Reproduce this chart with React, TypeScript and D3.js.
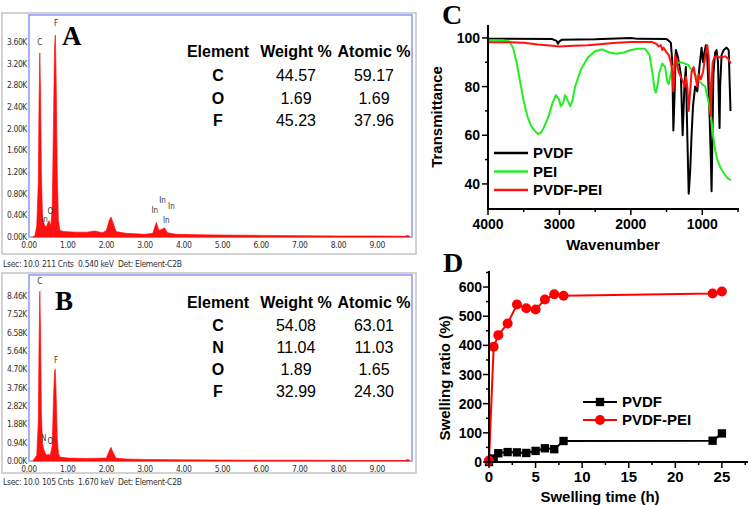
import React from 'react';
import * as d3 from 'd3';

// ---------- Panel A / B : EDS spectra ----------
const spectrumA: [number, number][] = [
  [0.1, 0], [0.15, 0.02], [0.2, 0.2], [0.24, 1.0], [0.26, 2.5], [0.28, 3.4], [0.3, 2.6], [0.32, 1.2],
  [0.35, 0.35], [0.4, 0.22], [0.44, 0.18], [0.48, 0.25], [0.52, 0.3], [0.56, 0.2], [0.6, 0.5],
  [0.63, 2.0], [0.66, 3.5], [0.68, 3.73], [0.7, 3.0], [0.73, 1.2], [0.76, 0.3], [0.8, 0.12],
  [0.9, 0.1], [1.2, 0.09], [1.5, 0.09], [1.7, 0.11], [1.9, 0.08], [2.0, 0.12], [2.07, 0.3],
  [2.12, 0.37], [2.18, 0.25], [2.25, 0.1], [2.5, 0.07], [3.0, 0.05], [3.2, 0.07], [3.29, 0.27],
  [3.36, 0.12], [3.45, 0.15], [3.5, 0.17], [3.58, 0.08], [3.8, 0.05], [4.5, 0.04], [5, 0.035],
  [6, 0.03], [7, 0.025], [8, 0.02], [9, 0.02], [9.7, 0.015], [9.8, 0.03], [9.85, 0],
];
const spectrumB: [number, number][] = [
  [0.1, 0], [0.2, 0.3], [0.24, 2], [0.26, 6], [0.28, 8.7], [0.3, 6.5], [0.32, 2.5], [0.35, 0.9],
  [0.38, 0.6], [0.42, 0.4], [0.46, 0.3], [0.5, 0.35], [0.55, 0.3], [0.6, 0.8], [0.63, 3],
  [0.66, 4.6], [0.68, 4.7], [0.7, 3.5], [0.73, 1.2], [0.76, 0.4], [0.8, 0.2], [1.0, 0.15],
  [1.5, 0.13], [2.0, 0.15], [2.07, 0.5], [2.12, 0.7], [2.18, 0.4], [2.25, 0.15], [2.5, 0.1],
  [3, 0.08], [4, 0.06], [5, 0.05], [6, 0.04], [7, 0.04], [8, 0.03], [9, 0.03], [9.7, 0.03],
  [9.8, 0.08], [9.85, 0],
];
const keVTicks = [0, 1, 2, 3, 4, 5, 6, 7, 8, 9];
const countTicksA = [0, 0.4, 0.8, 1.2, 1.6, 2.0, 2.4, 2.8, 3.2, 3.6];
const countTicksB = [0, 0.94, 1.88, 2.82, 3.76, 4.7, 5.64, 6.58, 7.52, 8.46];
const peakLabelsA: [string, number, number][] = [
  ['C', 0.28, 3.55], ['F', 0.7, 3.9], ['In', 0.4, 0.28], ['O', 0.55, 0.42],
  ['In', 3.25, 0.45], ['In', 3.45, 0.62], ['In', 3.68, 0.52], ['In', 3.55, 0.25],
];
const peakLabelsB: [string, number, number][] = [
  ['C', 0.28, 9.1], ['F', 0.7, 5.0], ['N', 0.38, 1.05], ['O', 0.55, 0.85],
];
const statusA = ['Lsec: 10.0', '211 Cnts', '0.540 keV', 'Det: Element-C2B'];
const statusB = ['Lsec: 10.0', '105 Cnts', '1.670 keV', 'Det: Element-C2B'];

const tableHeader = ['Element', 'Weight %', 'Atomic %'];
const elementsA = ['C', 'O', 'F'];
const weightA = ['44.57', '1.69', '45.23'];
const atomicA = ['59.17', '1.69', '37.96'];
const elementsB = ['C', 'N', 'O', 'F'];
const weightB = ['54.08', '11.04', '1.89', '32.99'];
const atomicB = ['63.01', '11.03', '1.65', '24.30'];

// ---------- Panel C : FTIR ----------
const ftirPVDF: [number, number][] = [
  [4000, 99.6], [3700, 99.6], [3100, 99.5], [3040, 98.8], [3020, 97.6], [3000, 98.6], [2970, 99.2],
  [2500, 99.4], [2000, 100], [1900, 99.6], [1500, 99.5], [1470, 98.8], [1440, 98], [1420, 90],
  [1405, 62], [1390, 75], [1370, 95], [1340, 92], [1300, 85], [1275, 60], [1250, 80], [1230, 88],
  [1210, 60], [1190, 36], [1170, 45], [1150, 60], [1130, 72], [1100, 80], [1070, 78], [1040, 88],
  [1010, 96], [990, 90], [970, 94], [950, 97], [930, 92], [900, 70], [880, 50], [870, 37],
  [860, 55], [845, 85], [820, 94], [800, 95], [780, 90], [765, 70], [758, 63], [750, 80],
  [730, 93], [700, 95], [660, 96], [630, 95], [615, 80], [605, 70],
];
const ftirPEI: [number, number][] = [
  [4000, 99], [3800, 99], [3700, 98.5], [3650, 96], [3600, 90], [3550, 82], [3500, 74], [3450, 68],
  [3400, 64], [3350, 62], [3300, 60.5], [3260, 61], [3220, 63], [3150, 68], [3100, 73], [3050, 76.5],
  [3010, 75], [2980, 72], [2950, 73], [2920, 76.5], [2880, 74], [2850, 72], [2820, 74], [2780, 80],
  [2700, 87], [2600, 92], [2500, 94.5], [2400, 95.3], [2300, 94], [2200, 93.5], [2100, 94],
  [2000, 95], [1900, 95.5], [1800, 95.5], [1740, 93], [1700, 86], [1670, 79], [1650, 77.5],
  [1630, 80], [1600, 86], [1560, 89.5], [1520, 88], [1490, 82], [1470, 81], [1450, 84], [1420, 88],
  [1380, 89.5], [1300, 90], [1200, 89], [1150, 87], [1100, 85], [1050, 82.5], [1000, 81], [960, 80],
  [930, 76], [900, 72], [870, 66], [850, 60], [820, 54], [790, 50], [750, 47], [700, 44.5],
  [650, 42.5], [600, 41.5],
];
const ftirPVDFPEI: [number, number][] = [
  [4000, 98.2], [3700, 98.2], [3500, 98], [3300, 97.3], [3100, 96.8], [3000, 96.5], [2800, 96.8],
  [2600, 97], [2400, 97.5], [2200, 98], [2000, 98.3], [1800, 98.3], [1700, 98.3], [1640, 97.5],
  [1610, 96.5], [1580, 97], [1560, 95], [1540, 96], [1500, 94], [1470, 93], [1440, 90], [1420, 86],
  [1405, 78], [1395, 82], [1380, 93], [1360, 90], [1330, 86], [1300, 84], [1270, 82], [1250, 80],
  [1230, 84], [1210, 80], [1190, 70], [1170, 78], [1150, 86], [1120, 88], [1090, 83], [1070, 80],
  [1050, 85], [1020, 83], [990, 86], [970, 90], [950, 94], [930, 97], [910, 92], [895, 80],
  [880, 68], [870, 80], [855, 90], [830, 92], [800, 92.5], [760, 92], [720, 92], [680, 92.5],
  [640, 91.5], [600, 89.5],
];
const ftirNames = ['PVDF', 'PEI', 'PVDF-PEI'];
const ftirXTicks = [4000, 3000, 2000, 1000];
const ftirXMinor = [3500, 2500, 1500, 500];
const ftirYTicks = [40, 60, 80, 100];
const ftirYMinor = [50, 70, 90];

// ---------- Panel D : swelling ----------
const timePVDF = [0, 0.5, 1, 2, 3, 4, 5, 6, 7, 8, 24, 25];
const swellPVDF = [0, 12, 30, 34, 33, 31, 38, 47, 44, 72, 73, 98];
const timePEI = [0, 0.5, 1, 2, 3, 4, 5, 6, 7, 8, 24, 25];
const swellPEI = [5, 395, 435, 475, 540, 527, 523, 557, 575, 570, 578, 585];
const swellNames = ['PVDF', 'PVDF-PEI'];
const dXTicks = [0, 5, 10, 15, 20, 25];
const dXMinor = [2.5, 7.5, 12.5, 17.5, 22.5, 27.5];
const dYTicks = [0, 100, 200, 300, 400, 500, 600];
const dYMinor = [50, 150, 250, 350, 450, 550, 650];

const SANS = "'Liberation Sans', Arial, sans-serif";
const SERIF = "'Liberation Serif', 'Times New Roman', serif";
const EDS_FONT = "'DejaVu Sans Condensed', 'Liberation Sans Narrow', 'Liberation Sans', sans-serif";

function EDSPanel(props: {
  data: [number, number][]; ticks: number[]; yTop: number; yBase: number; yMaxTick: number;
  frameTop: number; frameBottom: number; boxTop: number; boxBottom: number; letter: string;
  letterX: number; letterY: number; peaks: [string, number, number][]; status: string[]; statusY: number;
  elements: string[]; weight: string[]; atomic: string[]; rowYs: number[];
}) {
  const p = props;
  const x = d3.scaleLinear().domain([0, 9.9]).range([29, 412]);
  const y = d3.scaleLinear().domain([0, p.yMaxTick]).range([p.yBase, p.yTop]);
  const area = d3.area<[number, number]>().x(d => x(d[0])).y0(p.yBase).y1(d => y(d[1]));
  const statusX = [3, 42, 78, 118];
  const colX = [218, 296, 374];
  return (
    <g>
      <rect x={2} y={p.boxTop} width={414} height={p.boxBottom - p.boxTop} fill="none" stroke="#c4c4c4" strokeWidth={1.5} />
      <rect x={29} y={p.frameTop} width={383} height={p.frameBottom - p.frameTop} fill="#fff" stroke="#7b86f2" strokeWidth={1.3} />
      <path d={area(p.data) || ''} fill="#ff1010" stroke="#ff0000" strokeWidth={0.6} />
      {p.ticks.map(t => (
        <text key={t} x={27} y={y(t) + 3} fontSize={8.5} fontFamily={EDS_FONT} fill="#333" textAnchor="end" letterSpacing={-0.4}>
          {d3.format('.2f')(t) + 'K'}
        </text>
      ))}
      {keVTicks.map(t => (
        <text key={t} x={x(t)} y={p.frameBottom + 11} fontSize={8.5} fontFamily={EDS_FONT} fill="#333" textAnchor="middle" letterSpacing={-0.4}>
          {d3.format('.2f')(t)}
        </text>
      ))}
      {p.peaks.map((pk, i) => (
        <text key={i} x={x(pk[1])} y={y(pk[2])} fontSize={8} fontFamily={EDS_FONT} fill="#333" textAnchor="middle">{pk[0]}</text>
      ))}
      {p.status.map((s, i) => (
        <text key={i} x={statusX[i]} y={p.statusY} fontSize={8.5} fontFamily={EDS_FONT} fill="#333" letterSpacing={-0.3}>{s}</text>
      ))}
      <text x={p.letterX} y={p.letterY} fontSize={27} fontWeight="bold" fontFamily={SERIF}>{p.letter}</text>
      {tableHeader.map((h, i) => (
        <text key={h} x={colX[i]} y={p.rowYs[0]} fontSize={16} fontWeight="bold" fontFamily={SANS} textAnchor="middle">{h}</text>
      ))}
      {p.elements.map((el, i) => (
        <g key={el}>
          <text x={colX[0]} y={p.rowYs[i + 1]} fontSize={16} fontWeight="bold" fontFamily={SANS} textAnchor="middle">{el}</text>
          <text x={colX[1]} y={p.rowYs[i + 1]} fontSize={16} fontFamily={SANS} textAnchor="middle">{p.weight[i]}</text>
          <text x={colX[2]} y={p.rowYs[i + 1]} fontSize={16} fontFamily={SANS} textAnchor="middle">{p.atomic[i]}</text>
        </g>
      ))}
    </g>
  );
}

export default function App() {
  // Panel C scales
  const cx = d3.scaleLinear().domain([4000, 500]).range([488, 738]);
  const cy = d3.scaleLinear().domain([29.7, 105.3]).range([209, 25]);
  const cLine = d3.line<[number, number]>().x(d => cx(d[0])).y(d => cy(d[1]));
  const ftirSeries = [ftirPVDF, ftirPEI, ftirPVDFPEI];
  const ftirColors = ['#000000', '#22ee22', '#ff1111'];

  // Panel D scales
  const dx = d3.scaleLinear().domain([0, 27.8]).range([489, 748]);
  const dy = d3.scaleLinear().domain([0, 655]).range([462, 271]);
  const dLine = d3.line<number>();
  const ptsPVDF = timePVDF.map((t, i) => [dx(t), dy(swellPVDF[i])] as [number, number]);
  const ptsPEI = timePEI.map((t, i) => [dx(t), dy(swellPEI[i])] as [number, number]);
  const sq = d3.symbol().type(d3.symbolSquare).size(70)() || '';
  const lineGen = d3.line();

  return (
    <svg width={750} height={505} style={{ position: 'absolute', left: 0, top: 0, background: '#fff' }}>
      <rect x={0} y={0} width={750} height={505} fill="#fff" />
      <EDSPanel data={spectrumA} ticks={countTicksA} yTop={42} yBase={237} yMaxTick={3.6}
        frameTop={15} frameBottom={237} boxTop={13} boxBottom={254} letter="A" letterX={62} letterY={45}
        peaks={peakLabelsA} status={statusA} statusY={267}
        elements={elementsA} weight={weightA} atomic={atomicA} rowYs={[57, 81, 104, 126]} />
      <EDSPanel data={spectrumB} ticks={countTicksB} yTop={296} yBase={461} yMaxTick={8.46}
        frameTop={275} frameBottom={461} boxTop={273} boxBottom={473} letter="B" letterX={55} letterY={310}
        peaks={peakLabelsB} status={statusB} statusY={485}
        elements={elementsB} weight={weightB} atomic={atomicB} rowYs={[308, 331, 353, 375, 397]} />

      {/* Panel C */}
      <g fontFamily={SANS} fontWeight="bold">
        <text x={442} y={24} fontSize={28} fontFamily={SERIF}>C</text>
        {ftirSeries.map((s, i) => (
          <path key={i} d={cLine(s) || ''} fill="none" stroke={ftirColors[i]} strokeWidth={2} strokeLinejoin="round" />
        ))}
        <line x1={488} x2={488} y1={25} y2={209} stroke="#000" strokeWidth={2} />
        <line x1={487} x2={739} y1={209} y2={209} stroke="#000" strokeWidth={2} />
        {ftirYTicks.map(t => (
          <g key={t}>
            <line x1={482} x2={488} y1={cy(t)} y2={cy(t)} stroke="#000" strokeWidth={1.5} />
            <text x={480} y={cy(t) + 5} fontSize={14} textAnchor="end">{t}</text>
          </g>
        ))}
        {ftirYMinor.map(t => <line key={t} x1={485} x2={488} y1={cy(t)} y2={cy(t)} stroke="#000" strokeWidth={1.5} />)}
        {ftirXTicks.map(t => (
          <g key={t}>
            <line x1={cx(t)} x2={cx(t)} y1={209} y2={215} stroke="#000" strokeWidth={1.5} />
            <text x={cx(t)} y={229} fontSize={14} textAnchor="middle">{t}</text>
          </g>
        ))}
        {ftirXMinor.map(t => <line key={t} x1={cx(t)} x2={cx(t)} y1={209} y2={212} stroke="#000" strokeWidth={1.5} />)}
        <text x={613} y={250} fontSize={15} textAnchor="middle">Wavenumber</text>
        <text transform="translate(442,117) rotate(-90)" fontSize={15} textAnchor="middle">Transmittance</text>
        {ftirNames.map((n, i) => (
          <g key={n}>
            <line x1={494} x2={528} y1={153 + i * 18.5} y2={153 + i * 18.5} stroke={ftirColors[i]} strokeWidth={2.5} />
            <text x={533} y={158 + i * 18.5} fontSize={15}>{n}</text>
          </g>
        ))}
      </g>

      {/* Panel D */}
      <g fontFamily={SANS} fontWeight="bold">
        <text x={443} y={272} fontSize={28} fontFamily={SERIF}>D</text>
        <path d={dLine(ptsPVDF) || ''} fill="none" stroke="#000" strokeWidth={2} />
        <path d={dLine(ptsPEI) || ''} fill="none" stroke="#ff0000" strokeWidth={2} />
        {ptsPVDF.map((p, i) => <path key={i} d={sq} transform={`translate(${p[0]},${p[1]})`} fill="#000" />)}
        {ptsPEI.map((p, i) => <circle key={i} cx={p[0]} cy={p[1]} r={5} fill="#ff0000" />)}
        <line x1={489} x2={489} y1={271} y2={462} stroke="#000" strokeWidth={2} />
        <line x1={488} x2={748} y1={462} y2={462} stroke="#000" strokeWidth={2} />
        {dYTicks.map(t => (
          <g key={t}>
            <line x1={483} x2={489} y1={dy(t)} y2={dy(t)} stroke="#000" strokeWidth={1.5} />
            <text x={482} y={dy(t) + 5} fontSize={14} textAnchor="end">{t}</text>
          </g>
        ))}
        {dYMinor.map(t => <line key={t} x1={486} x2={489} y1={dy(t)} y2={dy(t)} stroke="#000" strokeWidth={1.5} />)}
        {dXTicks.map(t => (
          <g key={t}>
            <line x1={dx(t)} x2={dx(t)} y1={462} y2={468} stroke="#000" strokeWidth={1.5} />
            <text x={dx(t)} y={482} fontSize={15} textAnchor="middle">{t}</text>
          </g>
        ))}
        {dXMinor.map(t => <line key={t} x1={dx(t)} x2={dx(t)} y1={462} y2={465} stroke="#000" strokeWidth={1.5} />)}
        <text x={600} y={502} fontSize={15} textAnchor="middle">Swelling time (h)</text>
        <text transform="translate(450,378) rotate(-90)" fontSize={15} textAnchor="middle">Swelling ratio (%)</text>
        {swellNames.map((n, i) => {
          const yy = 402 + i * 18;
          const col = i === 0 ? '#000' : '#ff0000';
          return (
            <g key={n}>
              <path d={lineGen([[583, yy], [617, yy]]) || ''} stroke={col} strokeWidth={2} />
              {i === 0
                ? <path d={sq} transform={`translate(600,${yy})`} fill="#000" />
                : <circle cx={600} cy={yy} r={5} fill="#ff0000" />}
              <text x={622} y={yy + 5} fontSize={15}>{n}</text>
            </g>
          );
        })}
      </g>
    </svg>
  );
}
